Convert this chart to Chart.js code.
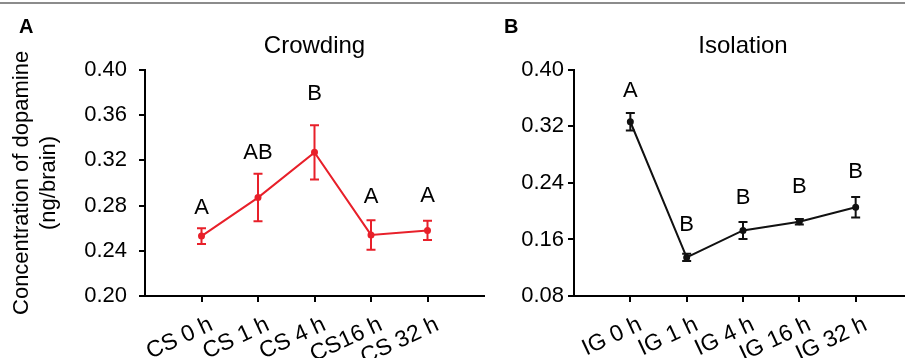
<!DOCTYPE html>
<html>
<head>
<meta charset="utf-8">
<script src="https://cdn.jsdelivr.net/npm/chart.js@4"></script>
<style>
  html, body { margin: 0; padding: 0; overflow: hidden; background: #fff; }
  body { width: 905px; height: 358px; position: relative; font-family: "Liberation Sans", Arial, sans-serif; }
  canvas { position: absolute; top: 0; }
  #chartA { left: 0; }
  #chartB { left: 490px; }
  .topline { position: absolute; left: 0; top: 2px; width: 905px; height: 2px; background: #8c8c8c; }
  .panel { position: absolute; font-weight: bold; font-size: 20px; line-height: 20px; color: #000; }
</style>
</head>
<body>
<div class="topline"></div>
<canvas id="chartA" width="490" height="358"></canvas>
<canvas id="chartB" width="428" height="358"></canvas>
<div class="panel" style="left:19px; top:16px;">A</div>
<div class="panel" style="left:504px; top:16px;">B</div>
<script>
// Crowding (panel A)
const categoriesA = ["CS 0 h", "CS 1 h", "CS 4 h", "CS16 h", "CS 32 h"];
const meansA = [0.253, 0.287, 0.327, 0.254, 0.258];
const errorsA = [0.007, 0.021, 0.024, 0.013, 0.0085];
const lettersA = ["A", "AB", "B", "A", "A"];
const letterYA = [0.278, 0.3265, 0.379, 0.288, 0.2886];
const ticksA = [0.20, 0.24, 0.28, 0.32, 0.36, 0.40];

// Isolation (panel B)
const categoriesB = ["IG 0 h", "IG 1 h", "IG 4 h", "IG 16 h", "IG 32 h"];
const meansB = [0.3265, 0.1346, 0.1727, 0.185, 0.2056];
const errorsB = [0.0125, 0.005, 0.012, 0.004, 0.0145];
const lettersB = ["A", "B", "B", "B", "B"];
const letterYB = [0.370, 0.181, 0.219, 0.234, 0.256];
const ticksB = [0.08, 0.16, 0.24, 0.32, 0.40];

const FONT = '"Liberation Sans", Arial, sans-serif';

// error bars + significance letters
const annotate = {
    id: "annotate",
    afterDatasetsDraw(chart, args, opts) {
        const ctx = chart.ctx;
        const x = chart.scales.x, y = chart.scales.y;
        ctx.save();
        ctx.strokeStyle = opts.color;
        ctx.lineWidth = 2;
        opts.means.forEach((m, i) => {
            const px = x.getPixelForValue(i + 1);
            const top = y.getPixelForValue(m + opts.errors[i]);
            const bot = y.getPixelForValue(m - opts.errors[i]);
            ctx.beginPath();
            ctx.moveTo(px, top); ctx.lineTo(px, bot);
            ctx.moveTo(px - 4.5, top); ctx.lineTo(px + 4.5, top);
            ctx.moveTo(px - 4.5, bot); ctx.lineTo(px + 4.5, bot);
            ctx.stroke();
            ctx.fillStyle = "#000";
            ctx.font = "22px " + FONT;
            ctx.textAlign = "center";
            ctx.textBaseline = "middle";
            ctx.fillText(opts.letters[i], px, y.getPixelForValue(opts.letterY[i]));
        });
        ctx.restore();
    }
};

function makeChart(id, cfg) {
    const axisGrid = { drawOnChartArea: false, tickLength: 6, color: "#000", lineWidth: 2 };
    const axisBorder = { color: "#000", width: 2 };
    const yScale = {
        min: cfg.ticks[0],
        max: cfg.ticks[cfg.ticks.length - 1],
        afterBuildTicks: s => { s.ticks = cfg.ticks.map(v => ({ value: v })); },
        afterFit: s => { s.width = cfg.yWidth; },
        ticks: { callback: v => v.toFixed(2), font: { size: 22, family: FONT }, color: "#000", padding: cfg.tickPad },
        grid: axisGrid,
        border: axisBorder
    };
    if (cfg.yTitle) {
        yScale.title = { display: true, text: cfg.yTitle, font: { size: 22, family: FONT }, color: "#000", padding: { top: 9, bottom: 0 } };
    }
    return new Chart(document.getElementById(id), {
        type: "line",
        data: {
            datasets: [{
                data: cfg.means.map((v, i) => ({ x: i + 1, y: v })),
                borderColor: cfg.color,
                backgroundColor: cfg.color,
                borderWidth: 2,
                pointRadius: 2.5,
                tension: 0
            }]
        },
        options: {
            responsive: false,
            animation: false,
            layout: { padding: { right: 2 } },
            plugins: {
                legend: { display: false },
                tooltip: { enabled: false },
                title: {
                    display: true, text: cfg.title, fullSize: false, color: "#000",
                    font: { size: 24, family: FONT, weight: "normal" },
                    padding: { top: 31.5, bottom: 9.5 }
                },
                annotate: { color: cfg.color, means: cfg.means, errors: cfg.errors, letters: cfg.letters, letterY: cfg.letterY }
            },
            scales: {
                x: {
                    type: "linear", min: 0, max: 6,
                    afterBuildTicks: s => { s.ticks = cfg.categories.map((c, i) => ({ value: i + 1 })); },
                    afterFit: s => { s.height = 62; },
                    ticks: {
                        callback: (v, i) => cfg.categories[i],
                        maxRotation: 25, minRotation: 25,
                        labelOffset: 10,
                        font: { size: 23, family: FONT }, color: "#000", padding: 9
                    },
                    grid: axisGrid,
                    border: axisBorder
                },
                y: yScale
            }
        },
        plugins: [annotate]
    });
}

makeChart("chartA", {
    title: "Crowding", categories: categoriesA, means: meansA, errors: errorsA,
    letters: lettersA, letterY: letterYA, ticks: ticksA, color: "#e8202a",
    yWidth: 145, tickPad: 12, yTitle: ["Concentration of dopamine", "(ng/brain)"]
});

makeChart("chartB", {
    title: "Isolation", categories: categoriesB, means: meansB, errors: errorsB,
    letters: lettersB, letterY: letterYB, ticks: ticksB, color: "#111",
    yWidth: 84, tickPad: 4
});
</script>
</body>
</html>
